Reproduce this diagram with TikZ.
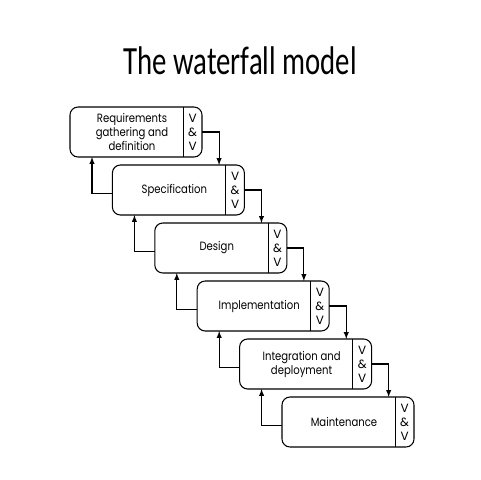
\documentclass[tikz,border=0pt]{standalone}
\usepackage{fontspec}
\setmainfont{Carlito}
\newfontfamily\boxfont{Poppins}
\usetikzlibrary{positioning}
\usetikzlibrary{arrows}

\begin{document}
\begin{tikzpicture}
        [>=latex, thick,
         stage/.style = {draw, rounded corners=6pt, minimum width=99pt, minimum height=37.5pt, inner sep=0pt, outer sep=0pt},
         vv/.style = {minimum width=14pt, minimum height=37.5pt, inner sep=0pt, outer sep=0pt, align=center, font=\boxfont\fontsize{9}{10.5}\selectfont},
         txt/.style = {align=center, inner sep=0pt, xscale=0.84, font=\boxfont\fontsize{9}{10.5}\selectfont}]
        \useasboundingbox (0,0) rectangle (360pt,-360pt);
        \node[font=\fontsize{30}{36}\selectfont, xscale=0.72, anchor=base] (title) at (180pt,-55.5pt) {The waterfall model};

        % stages
        \node[stage, anchor=north west] (req) at (52.5pt,-80.25pt) {};
        \node[stage] (spec) [below right=6pt and -67.2pt of req] {};
        \node[stage] (design) [below right=6pt and -67.2pt of spec] {};
        \node[stage] (impl) [below right=6pt and -67.2pt of design] {};
        \node[stage] (integ) [below right=6pt and -67.2pt of impl] {};
        \node[stage] (maint) [below right=6pt and -67.2pt of integ] {};

        \node[txt] (reqtxt) at ([xshift=46.5pt]req.west) {Requirements\\gathering and\\definition};
        \node[txt] (spectxt) at ([xshift=46.5pt]spec.west) {Specification};
        \node[txt] (designtxt) at ([xshift=46.5pt]design.west) {Design};
        \node[txt] (impltxt) at ([xshift=46.5pt]impl.west) {Implementation};
        \node[txt] (integtxt) at ([xshift=46.5pt]integ.west) {Integration and\\deployment};
        \node[txt] (mainttxt) at ([xshift=46.5pt]maint.west) {Maintenance};

        % V & V columns
        \node[vv, anchor=east] (reqvv) at (req.east) {V\\\&\\V};
        \node[vv, anchor=east] (specvv) at (spec.east) {V\\\&\\V};
        \node[vv, anchor=east] (designvv) at (design.east) {V\\\&\\V};
        \node[vv, anchor=east] (implvv) at (impl.east) {V\\\&\\V};
        \node[vv, anchor=east] (integvv) at (integ.east) {V\\\&\\V};
        \node[vv, anchor=east] (maintvv) at (maint.east) {V\\\&\\V};
        \draw (reqvv.north west) -- (reqvv.south west);
        \draw (specvv.north west) -- (specvv.south west);
        \draw (designvv.north west) -- (designvv.south west);
        \draw (implvv.north west) -- (implvv.south west);
        \draw (integvv.north west) -- (integvv.south west);
        \draw (maintvv.north west) -- (maintvv.south west);

        % going down
        \draw[->] (req.east) -| ([xshift=-5pt]specvv.north west);
        \draw[->] (spec.east) -| ([xshift=-5pt]designvv.north west);
        \draw[->] (design.east) -| ([xshift=-5pt]implvv.north west);
        \draw[->] (impl.east) -| ([xshift=-5pt]integvv.north west);
        \draw[->] (integ.east) -| ([xshift=-5pt]maintvv.north west);

        % going back
        \draw[->] ([yshift=-2.5pt]spec.west) -| ([xshift=16.5pt]req.south west);
        \draw[->] ([yshift=-2.5pt]design.west) -| ([xshift=16.5pt]spec.south west);
        \draw[->] ([yshift=-2.5pt]impl.west) -| ([xshift=16.5pt]design.south west);
        \draw[->] ([yshift=-2.5pt]integ.west) -| ([xshift=16.5pt]impl.south west);
        \draw[->] ([yshift=-2.5pt]maint.west) -| ([xshift=16.5pt]integ.south west);
\end{tikzpicture}
\end{document}
